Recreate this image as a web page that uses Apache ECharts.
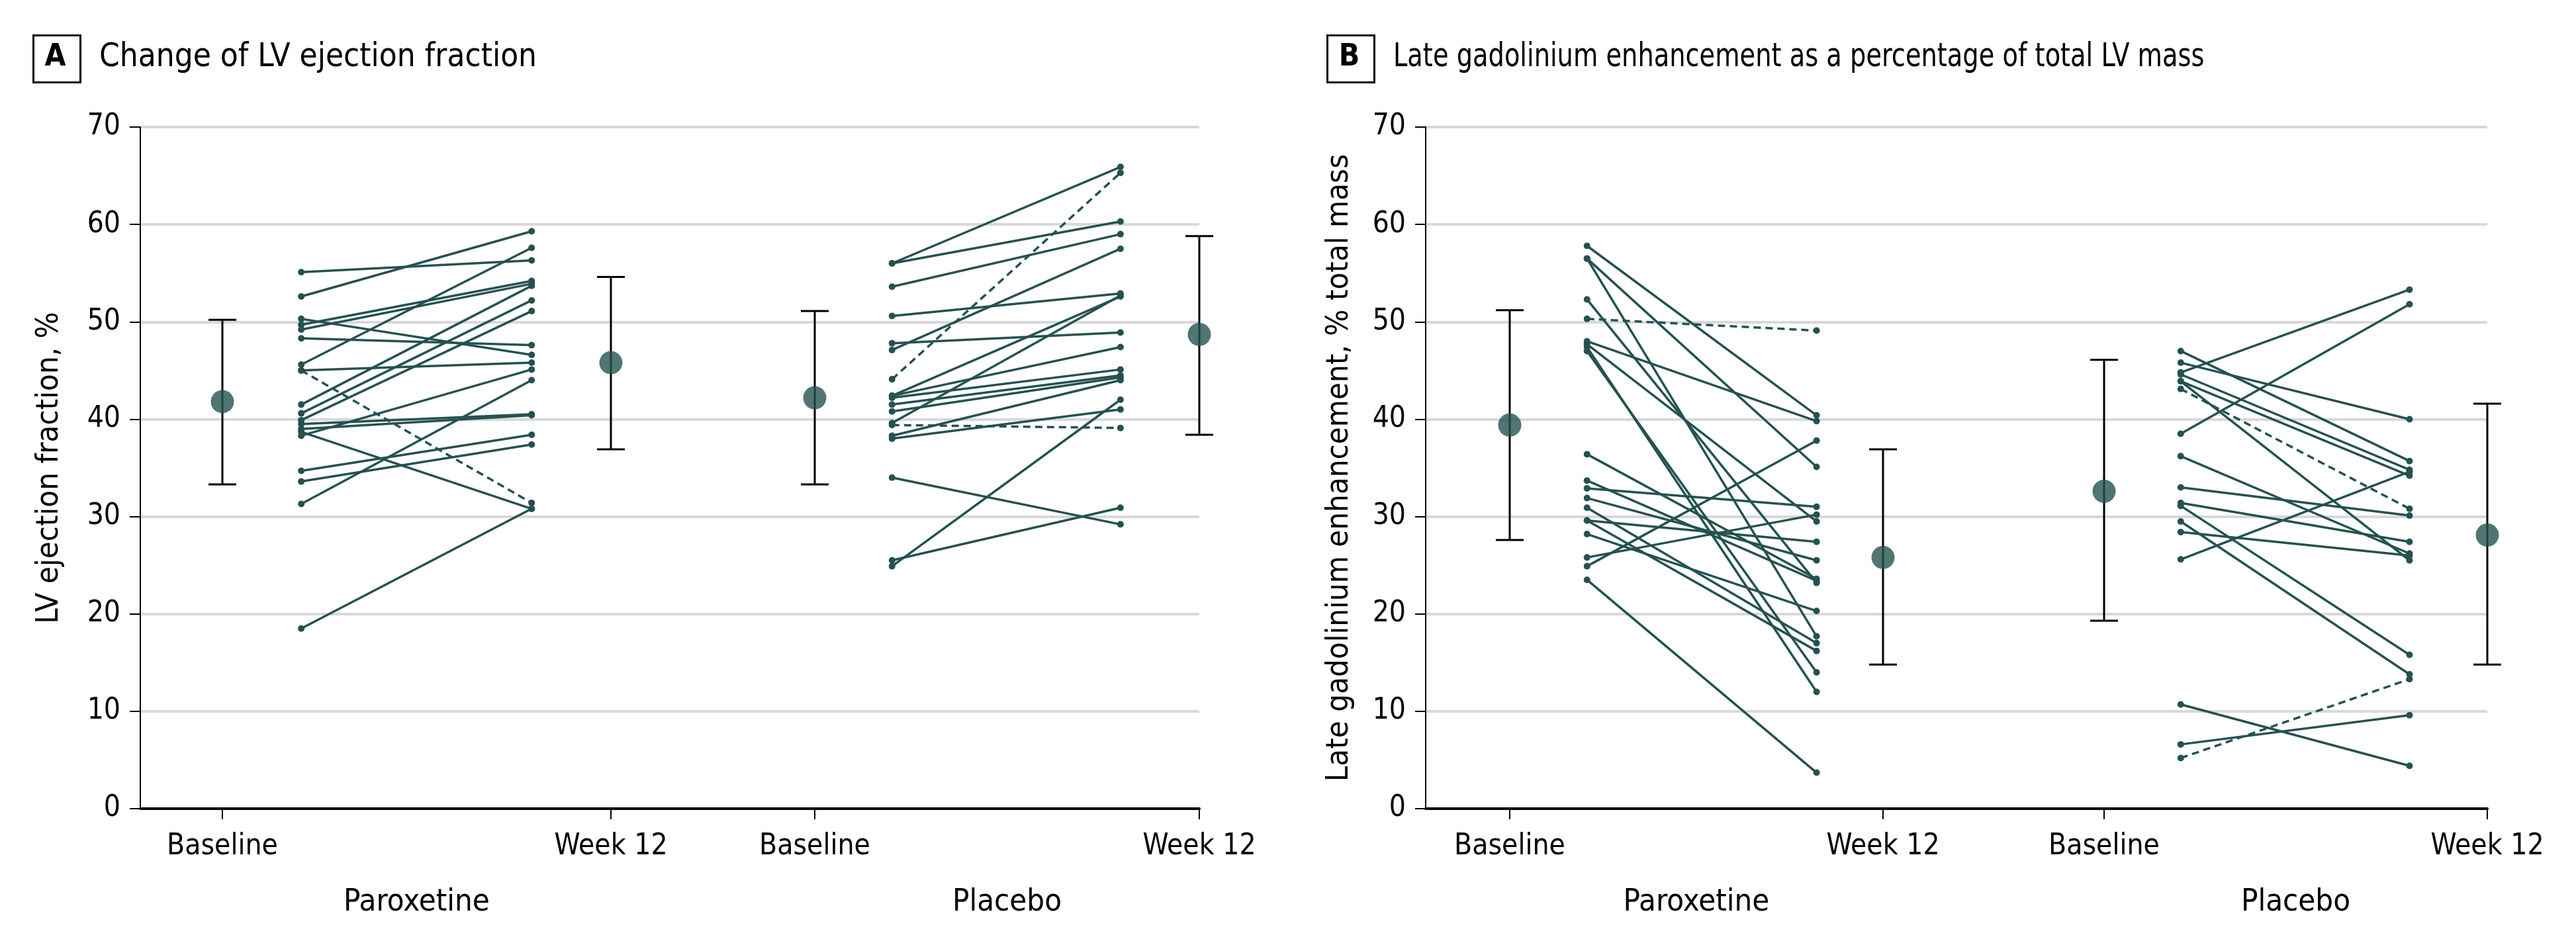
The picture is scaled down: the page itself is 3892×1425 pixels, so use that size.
<!DOCTYPE html>
<html>
<head>
<meta charset="utf-8">
<script src="https://cdn.jsdelivr.net/npm/echarts@6/dist/echarts.min.js"></script>
<style>html,body{margin:0;padding:0;background:#fff}#c{width:3892px;height:1425px}</style>
</head>
<body>
<div id="c"></div>
<script>
// ---------------- DATA ----------------
const timepoints = ['Baseline', 'Week 12'];
const groups = ['Paroxetine', 'Placebo'];
const yTicks = [0, 10, 20, 30, 40, 50, 60, 70];

// Panel A: LV ejection fraction, %
const lvefParoxBaseline = [55.1, 52.6, 50.3, 49.7, 49.2, 48.3, 45.6, 45.0, 45.0, 41.5, 40.6, 39.9, 39.5, 39.0, 38.3, 38.7, 34.7, 33.6, 31.3, 18.5];
const lvefParoxWeek12   = [56.3, 59.3, 46.6, 54.2, 53.9, 47.6, 57.6, 45.8, 31.4, 53.7, 52.2, 51.1, 40.5, 40.4, 45.1, 30.8, 38.4, 37.4, 44.0, 30.8];
const lvefParoxDashed   = [0, 0, 0, 0, 0, 0, 0, 0, 1, 0, 0, 0, 0, 0, 0, 0, 0, 0, 0, 0];

const lvefPlaceboBaseline = [56.0, 56.0, 53.6, 50.6, 47.8, 47.1, 44.1, 42.4, 42.4, 42.2, 41.5, 40.8, 39.6, 39.4, 38.3, 38.0, 34.0, 25.5, 24.9];
const lvefPlaceboWeek12   = [65.9, 60.3, 59.0, 52.9, 48.9, 57.5, 65.3, 52.6, 47.4, 45.1, 44.5, 44.3, 52.7, 39.1, 44.0, 41.0, 29.2, 30.9, 42.0];
const lvefPlaceboDashed   = [0, 0, 0, 0, 0, 0, 1, 0, 0, 0, 0, 0, 0, 1, 0, 0, 0, 0, 0];

// mean and 95% CI: [Paroxetine baseline, Paroxetine week 12, Placebo baseline, Placebo week 12]
const lvefMean = [41.8, 45.8, 42.2, 48.7];
const lvefLow  = [33.3, 36.9, 33.3, 38.4];
const lvefHigh = [50.2, 54.6, 51.1, 58.8];

// Panel B: LGE, % total LV mass
const lgeParoxBaseline = [57.8, 56.5, 56.5, 52.3, 50.3, 48.0, 47.7, 47.4, 47.0, 36.4, 33.7, 32.9, 31.9, 30.9, 29.6, 29.6, 28.2, 25.8, 24.9, 23.5];
const lgeParoxWeek12   = [40.4, 35.1, 17.7, 23.2, 49.1, 39.8, 29.5, 12.0, 14.0, 23.6, 23.4, 31.0, 25.5, 17.0, 27.4, 16.2, 20.3, 30.2, 37.8, 3.7];
const lgeParoxDashed   = [0, 0, 0, 0, 1, 0, 0, 0, 0, 0, 0, 0, 0, 0, 0, 0, 0, 0, 0, 0];

const lgePlaceboBaseline = [47.0, 45.8, 44.8, 44.6, 43.9, 43.9, 43.1, 38.5, 36.2, 33.0, 31.4, 31.1, 29.5, 28.4, 25.6, 10.7, 6.6, 5.2];
const lgePlaceboWeek12   = [35.7, 40.0, 53.3, 34.8, 34.2, 25.5, 30.8, 51.8, 26.2, 30.1, 27.4, 15.8, 13.8, 26.0, 34.6, 4.4, 9.6, 13.3];
const lgePlaceboDashed   = [0, 0, 0, 0, 0, 0, 1, 0, 0, 0, 0, 0, 0, 0, 0, 0, 0, 1];

const lgeMean = [39.4, 25.8, 32.6, 28.1];
const lgeLow  = [27.6, 14.8, 19.3, 14.8];
const lgeHigh = [51.2, 36.9, 46.1, 41.6];

// ---------------- LAYOUT / STYLE ----------------
const FONT = "'Liberation Sans Narrow','Arial Narrow','DejaVu Sans Condensed','Roboto Condensed',sans-serif";
const INK = '#000000';
const TEAL = '#245250';
const GRIDC = '#d8d8d8';
const TOP = 192, HEIGHT = 1030;
const TICK_FS = 44, NAME_FS = 47, TITLE_FS = 49, GROUP_FS = 47;

const PANELS = [
  {
    letter: 'A', title: 'Change of LV ejection fraction', yName: 'LV ejection fraction, %',
    left: 212, width: 1600, nameGap: 114, boxX: 48, titleX: 150, titleScaleX: 1,
    xMin: -124, groupTicks: [[0, 587], [895, 1476]], indFrac: [[0.203, 0.796], [0.201, 0.795]],
    sets: [
      {b: lvefParoxBaseline, w: lvefParoxWeek12, d: lvefParoxDashed},
      {b: lvefPlaceboBaseline, w: lvefPlaceboWeek12, d: lvefPlaceboDashed}
    ],
    mean: lvefMean, low: lvefLow, high: lvefHigh
  },
  {
    letter: 'B', title: 'Late gadolinium enhancement as a percentage of total LV mass', yName: 'Late gadolinium enhancement, % total mass',
    left: 2154, width: 1604, nameGap: 107, boxX: 2003, titleX: 2105, titleScaleX: 0.87,
    xMin: -127, groupTicks: [[0, 564], [898, 1477]], indFrac: [[0.207, 0.822], [0.200, 0.797]],
    sets: [
      {b: lgeParoxBaseline, w: lgeParoxWeek12, d: lgeParoxDashed},
      {b: lgePlaceboBaseline, w: lgePlaceboWeek12, d: lgePlaceboDashed}
    ],
    mean: lgeMean, low: lgeLow, high: lgeHigh
  }
];

// ---------------- BUILD ----------------
const grid = [], xAxis = [], yAxis = [], series = [], graphic = [];

PANELS.forEach((P, pi) => {
  const ticks = [P.groupTicks[0][0], P.groupTicks[0][1], P.groupTicks[1][0], P.groupTicks[1][1]];
  const xMax = P.groupTicks[1][1];
  grid.push({left: P.left, top: TOP, width: P.width, height: HEIGHT, containLabel: false});
  xAxis.push({
    gridIndex: pi, type: 'value', min: P.xMin, max: xMax,
    axisLine: {show: true, onZero: false, lineStyle: {color: INK, width: 4}},
    axisTick: {show: true, customValues: ticks, length: 16, lineStyle: {color: INK, width: 2}},
    axisLabel: {
      show: true, customValues: ticks, margin: 36,
      formatter: v => timepoints[ticks.indexOf(v) % 2],
      fontSize: TICK_FS, color: INK, fontFamily: FONT
    },
    splitLine: {show: false}
  });
  yAxis.push({
    gridIndex: pi, type: 'value', min: yTicks[0], max: yTicks[yTicks.length - 1], interval: yTicks[1] - yTicks[0],
    name: P.yName, nameLocation: 'middle', nameRotate: 90, nameGap: P.nameGap,
    nameTextStyle: {fontSize: NAME_FS, color: INK, fontFamily: FONT},
    axisLine: {show: true, onZero: false, lineStyle: {color: INK, width: 2}},
    axisTick: {show: true, length: 16, lineStyle: {color: INK, width: 2}},
    axisLabel: {fontSize: TICK_FS, color: INK, fontFamily: FONT, margin: 30},
    splitLine: {show: true, lineStyle: {color: GRIDC, width: 4}}
  });

  // individual patient lines
  P.sets.forEach((S, gi) => {
    const [t0, t1] = P.groupTicks[gi];
    const xb = t0 + P.indFrac[gi][0] * (t1 - t0);
    const xw = t0 + P.indFrac[gi][1] * (t1 - t0);
    S.b.forEach((bv, k) => {
      series.push({
        type: 'line', xAxisIndex: pi, yAxisIndex: pi,
        data: [[xb, bv], [xw, S.w[k]]],
        symbol: 'circle', symbolSize: 10, showSymbol: true,
        itemStyle: {color: TEAL},
        lineStyle: {color: TEAL, width: 3.5, type: S.d[k] ? [11, 7] : 'solid'},
        silent: true, animation: false, z: 2
      });
    });
  });

  // summary mean and CI
  const sumData = ticks.map((x, k) => [x, P.low[k], P.high[k]]);
  series.push({
    type: 'custom', xAxisIndex: pi, yAxisIndex: pi, data: sumData, silent: true, animation: false, z: 3,
    encode: {x: 0, y: [1, 2]},
    renderItem: (params, api) => {
      const x = api.value(0);
      const lo = api.coord([x, api.value(1)]);
      const hi = api.coord([x, api.value(2)]);
      const hw = 21;
      const st = {stroke: INK, lineWidth: 3};
      return {type: 'group', children: [
        {type: 'line', shape: {x1: lo[0], y1: lo[1], x2: hi[0], y2: hi[1]}, style: st},
        {type: 'line', shape: {x1: lo[0] - hw, y1: lo[1], x2: lo[0] + hw, y2: lo[1]}, style: st},
        {type: 'line', shape: {x1: hi[0] - hw, y1: hi[1], x2: hi[0] + hw, y2: hi[1]}, style: st}
      ]};
    }
  });
  series.push({
    type: 'scatter', xAxisIndex: pi, yAxisIndex: pi,
    data: ticks.map((x, k) => [x, P.mean[k]]),
    symbol: 'circle', symbolSize: 35, itemStyle: {color: TEAL}, silent: true, animation: false, z: 4
  });

  // panel letter box + title
  graphic.push({type: 'rect', left: P.boxX, top: 51, shape: {width: 71, height: 71}, style: {fill: 'none', stroke: INK, lineWidth: 3}});
  graphic.push({type: 'text', x: P.boxX + 35.5, y: 87, style: {text: P.letter, font: `bold 46px ${FONT}`, fill: INK, align: 'center', verticalAlign: 'middle'}});
  graphic.push({type: 'text', x: P.titleX, y: 87, scaleX: P.titleScaleX, style: {text: P.title, font: `${TITLE_FS}px ${FONT}`, fill: INK, align: 'left', verticalAlign: 'middle'}});
});

const chart = echarts.init(document.getElementById('c'), null, {renderer: 'canvas'});
chart.setOption({animation: false, backgroundColor: '#ffffff', grid, xAxis, yAxis, series, graphic});

// group labels centered under each group, located via the axis scale
PANELS.forEach((P, pi) => {
  P.groupTicks.forEach((gt, gi) => {
    const cx = chart.convertToPixel({xAxisIndex: pi}, (gt[0] + gt[1]) / 2);
    graphic.push({type: 'text', x: cx, y: 1364, style: {text: groups[gi], font: `${GROUP_FS}px ${FONT}`, fill: INK, align: 'center', verticalAlign: 'middle'}});
  });
});
chart.setOption({graphic});
</script>
</body>
</html>
